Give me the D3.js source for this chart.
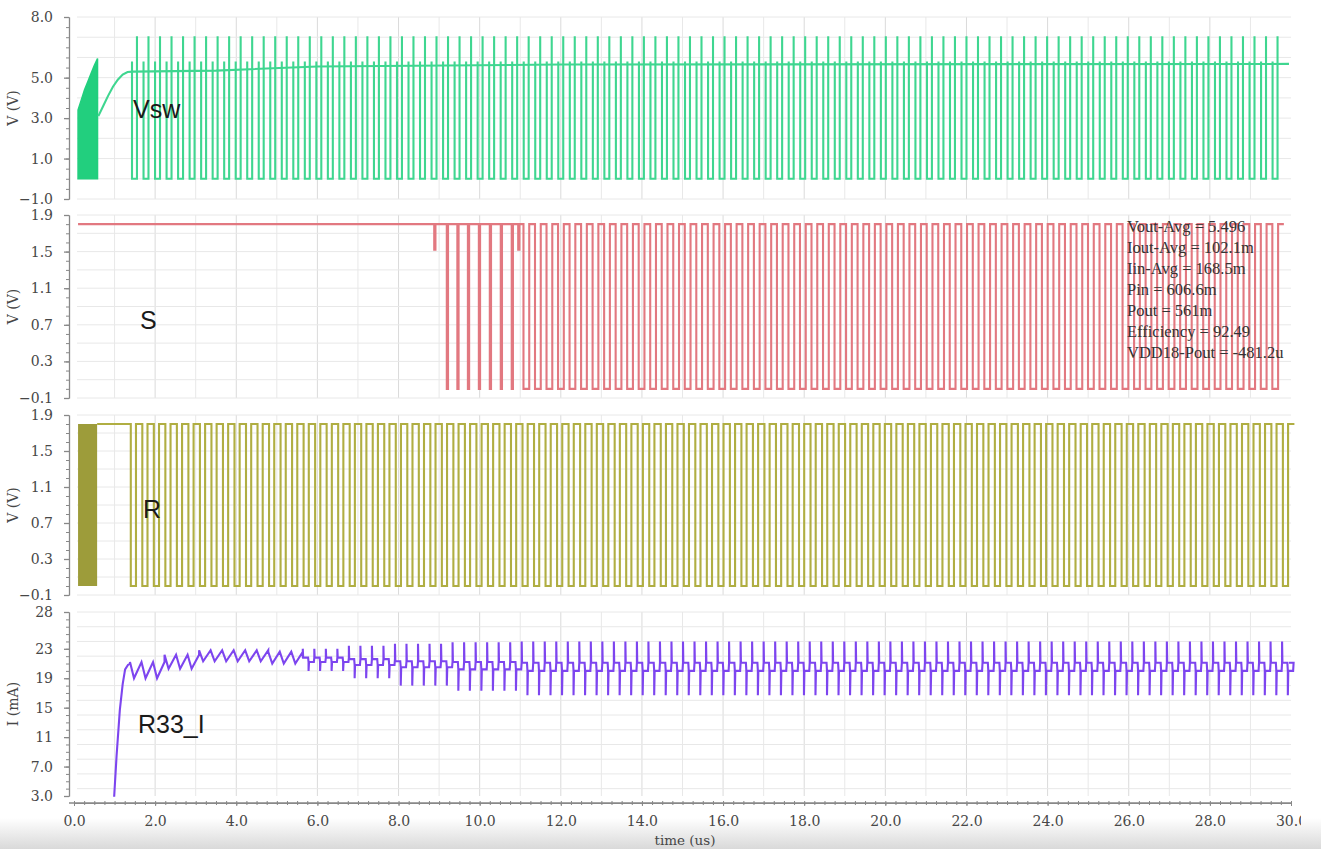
<!DOCTYPE html>
<html>
<head>
<meta charset="utf-8">
<script src="https://cdn.jsdelivr.net/npm/d3@7"></script>
<style>
  body { margin: 0; background: #fff; }
  svg { display: block; }
  .axis text { font-family: "DejaVu Serif", serif; font-size: 14px; fill: #474747; }
  .axis path, .axis line { stroke: #888; }
  .grid line { stroke: #e8e8e8; stroke-width: 1; }
  .grid line.major { stroke: #dadada; }
  .trace { fill: none; stroke-width: 2.1; stroke-linejoin: miter; }
</style>
</head>
<body>
<svg id="svg1" width="1321" height="849"></svg>
<script>
// ---------- values ----------
var timeTicks = [0, 2, 4, 6, 8, 10, 12, 14, 16, 18, 20, 22, 24, 26, 28, 30];
var vswTicks = [8, 5, 3, 1, -1];
var logicTicks = [1.9, 1.5, 1.1, 0.7, 0.3, -0.1];
var currentTicks = [28, 23, 19, 15, 11, 7, 3];

var switchPeriod = 0.284;   // us between switching pulses

// Vsw panel (V)
var vswBurstTop = [[0.1, 3.4], [0.18, 3.9], [0.26, 4.4], [0.34, 4.8], [0.42, 5.2], [0.5, 5.6], [0.58, 5.95]];
var voutCurve = [[0.6, 3.1], [0.72, 3.6], [0.84, 4.1], [0.96, 4.55], [1.08, 4.9], [1.2, 5.15], [1.32, 5.28],
                 [1.45, 5.3], [3.5, 5.35], [6, 5.55], [12, 5.65], [29.95, 5.68]];
var vswPulse = [[0, 5.8], [0, 0], [0.43, 0], [0.43, 7.05]];        // one period: [phase, V]
var vswTrain = [1.43, 29.95];

// S panel (V)
var sHold = [0.1, 1.8];              // starts high
var sDips = [8.88, 10.95];           // shallow dips to ~1.5 V
var sNarrow = [9.19, 9.45, 9.71, 9.98, 10.25, 10.52, 10.79];   // narrow drops to 0 V
var sPulse = [[0, 1.8], [0, 0], [0.5, 0], [0.5, 1.8], [1, 1.8]];
var sTrain = [11.08, 29.95];

// R panel (V)
var rBurst = [0.1, 0.57];            // dense switching 0..1.8 V
var rPulse = [[0, 1.8], [0, 0], [0.45, 0], [0.45, 1.8], [1, 1.8]];
var rTrain = [1.40, 29.95];

// R33_I panel (mA)
var iRise = [[0.99, 2.9], [1.05, 8.5], [1.13, 14.7], [1.2, 18.2], [1.26, 20.2], [1.33, 20.8], [1.38, 21.0]];
// stage start (us), spike top, upper level, lower level, spike bottom
var iStages = [
  [1.38, 21.2, 21.2, 19.0, 19.0],
  [2.2, 22.2, 22.2, 20.3, 20.3],
  [3.0, 22.8, 22.8, 21.3, 21.3],
  [4.6, 22.6, 22.6, 21.0, 21.0],
  [5.4, 23.0, 21.8, 21.2, 20.0],
  [6.5, 23.4, 21.6, 20.8, 19.0],
  [7.8, 23.7, 21.3, 20.5, 18.0],
  [9.2, 23.9, 21.2, 20.2, 17.3],
  [10.8, 24.0, 21.1, 20.0, 16.7]
];
var iTrainEnd = 29.95;

var measureLines = ["Vout-Avg = 5.496", "Iout-Avg = 102.1m", "Iin-Avg = 168.5m", "Pin = 606.6m",
                    "Pout = 561m", "Efficiency = 92.49", "VDD18-Pout = -481.2u"];

// ---------- layout ----------
var params = {
  "x": { "left": 74, "right": 1291 },
  "axisX": 69,
  "gridLeft": 77,
  "panels": [
    { "id": "vsw", "domain": [-1, 8], "top": 17, "bottom": 199, "ticks": vswTicks, "minor": 0.5, "gridStep": 1, "fmt": ".1f", "title": "V (V)" },
    { "id": "s", "domain": [-0.1, 1.9], "top": 215, "bottom": 398, "ticks": logicTicks, "minor": 0.1, "gridStep": 0.2, "fmt": ".1f", "title": "V (V)" },
    { "id": "r", "domain": [-0.1, 1.9], "top": 415, "bottom": 595, "ticks": logicTicks, "minor": 0.1, "gridStep": 0.2, "fmt": ".1f", "title": "V (V)" },
    { "id": "i", "domain": [3, 28], "top": 612, "bottom": 796, "ticks": currentTicks, "minor": 1, "gridStep": 2, "fmt": "", "title": "I (mA)" }
  ],
  "xAxisY": 803
};

var colors = {
  "vsw": "#3fd690", "vswFill": "#22cf7e",
  "s": "#e27880",
  "r": "#b0ae42", "rFill": "#9d9c3a",
  "i": "#7d45ef"
};

var translate = function(x, y) { return "translate(" + x + "," + y + ")"; };

var svg = d3.select("#svg1");
var x = d3.scaleLinear().domain([0, 30]).range([params.x.left, params.x.right]);

// bottom shading
var defs = svg.append("defs");
var grad = defs.append("linearGradient").attr("id", "shade").attr("x1", 0).attr("x2", 0).attr("y1", 0).attr("y2", 1);
grad.append("stop").attr("offset", "0%").attr("stop-color", "#ffffff");
grad.append("stop").attr("offset", "100%").attr("stop-color", "#d9d9d9");
defs.append("clipPath").attr("id", "cut").append("rect")
  .attr("x", 0).attr("y", 0).attr("width", 1301).attr("height", 849);

svg.append("rect").attr("x", 0).attr("y", 0).attr("width", 1321).attr("height", 849).attr("fill", "#fff");
svg.append("rect").attr("x", 0).attr("y", 818).attr("width", 1321).attr("height", 31).attr("fill", "url(#shade)");

// repeat one read period shape between two edges; null breaks the line
var pulseTrain = function(shape, range, breakAfter) {
  var pts = [];
  for (var t0 = range[0]; t0 < range[1] - switchPeriod * 0.5; t0 += switchPeriod) {
    shape.forEach(function(p) { pts.push([t0 + p[0] * switchPeriod, p[1]]); });
    if (breakAfter) pts.push(null);
  }
  return pts;
};

var currentPoints = function() {
  var pts = iRise.slice();
  for (var t0 = iStages[0][0]; t0 < iTrainEnd - switchPeriod * 0.5; t0 += switchPeriod) {
    var st = iStages.filter(function(s) { return s[0] <= t0 + 1e-9; }).pop();
    var hi = st[1], a = st[2], b = st[3], lo = st[4], P = switchPeriod;
    if (hi === a) {
      pts.push([t0, a], [t0 + 0.35 * P, b], [t0 + P, a]);
    } else {
      pts.push([t0, a], [t0, hi], [t0 + 0.03 * P, a], [t0 + 0.46 * P, a], [t0 + 0.5 * P, b],
               [t0 + 0.5 * P, lo], [t0 + 0.54 * P, b], [t0 + 0.96 * P, b], [t0 + P, a]);
    }
  }
  pts.push([iTrainEnd, pts[pts.length - 1][1]]);
  return pts;
};

var panelScales = {};

params.panels.forEach(function(p) {
  var y = d3.scaleLinear().domain(p.domain).range([p.bottom, p.top]);
  panelScales[p.id] = y;

  var g = svg.append("g").attr("id", "panel-" + p.id);

  // grid
  var grid = g.append("g").attr("class", "grid");
  d3.range(1, 30).forEach(function(t) {
    grid.append("line").attr("class", t % 2 === 0 ? "major" : "")
      .attr("x1", x(t)).attr("x2", x(t)).attr("y1", p.top).attr("y2", p.bottom);
  });
  var n = Math.round((p.domain[1] - p.domain[0]) / p.gridStep);
  for (var k = 0; k <= n; k++) {
    var v = p.domain[1] - k * p.gridStep;
    grid.append("line").attr("x1", params.gridLeft).attr("x2", params.x.right)
      .attr("y1", y(v)).attr("y2", y(v));
  }

  // y axis: minor ticks, then labelled ticks
  var minorVals = d3.range(p.domain[0], p.domain[1] + 1e-6, p.minor);
  g.append("g").attr("class", "axis").attr("transform", translate(params.axisX, 0))
    .call(d3.axisLeft(y).tickValues(minorVals).tickSize(3).tickFormat("").tickSizeOuter(0));
  var ax = g.append("g").attr("class", "axis").attr("transform", translate(params.axisX, 0))
    .call(d3.axisLeft(y).tickValues(p.ticks).tickSize(5).tickSizeOuter(0).tickPadding(11)
      .tickFormat(function(d) { return p.fmt ? d3.format(p.fmt)(d) : (d >= 10 ? d : d3.format(".1f")(d)); }));
  ax.selectAll("path, line").attr("stroke-width", 1.3);

  g.append("text")
    .attr("transform", translate(18, (p.top + p.bottom) / 2) + " rotate(-90)")
    .attr("text-anchor", "middle")
    .attr("font-family", "DejaVu Serif, serif").attr("font-size", 14).attr("fill", "#474747")
    .text(p.title);
});

var line = function(y) {
  return d3.line().defined(function(d) { return d !== null; })
    .x(function(d) { return x(d[0]); }).y(function(d) { return y(d[1]); });
};

// ---- Vsw ----
var yV = panelScales.vsw;
svg.append("path")
  .attr("d", d3.area().x(function(d) { return x(d[0]); }).y0(yV(0)).y1(function(d) { return yV(d[1]); })(vswBurstTop))
  .attr("fill", colors.vswFill).attr("stroke", colors.vswFill).attr("stroke-width", 1.5);
svg.append("path").attr("class", "trace").attr("stroke", colors.vsw)
  .attr("d", line(yV)(pulseTrain(vswPulse, vswTrain, true)));
svg.append("path").attr("class", "trace").attr("stroke", colors.vsw)
  .attr("d", line(yV)(voutCurve));

// ---- S ----
var yS = panelScales.s;
var sPts = [[sHold[0], sHold[1]]];
var sEvents = sDips.filter(function(t) { return t < sTrain[0]; }).map(function(t) { return [t, 1.52]; })
  .concat(sNarrow.map(function(t) { return [t, 0]; }))
  .sort(function(a, b) { return a[0] - b[0]; });
sEvents.forEach(function(e) {
  sPts.push([e[0], 1.8], [e[0], e[1]], [e[0] + 0.03, e[1]], [e[0] + 0.03, 1.8]);
});
sPts.push([sTrain[0], 1.8]);
sPts = sPts.concat(pulseTrain(sPulse, sTrain, false));
svg.append("path").attr("class", "trace").attr("stroke", colors.s).attr("stroke-width", 1.9)
  .attr("d", line(yS)(sPts));

// ---- R ----
var yR = panelScales.r;
svg.append("rect")
  .attr("x", x(rBurst[0])).attr("y", yR(1.8))
  .attr("width", x(rBurst[1]) - x(rBurst[0])).attr("height", yR(0) - yR(1.8))
  .attr("fill", colors.rFill);
var rPts = [[rBurst[1], 1.8], [rTrain[0], 1.8]].concat(pulseTrain(rPulse, rTrain, false));
svg.append("path").attr("class", "trace").attr("stroke", colors.r)
  .attr("d", line(yR)(rPts));

// ---- R33_I ----
var yI = panelScales.i;
svg.append("path").attr("class", "trace").attr("stroke", colors.i)
  .attr("d", line(yI)(currentPoints()));

// ---- x axis ----
var gx = svg.append("g").attr("clip-path", "url(#cut)");
gx.append("g").attr("class", "axis").attr("transform", translate(0, params.xAxisY))
  .call(d3.axisBottom(x).tickValues(d3.range(0, 30.01, 0.25)).tickSize(2).tickFormat("").tickSizeOuter(0))
  .selectAll("line").attr("y1", -2);
var xAx = gx.append("g").attr("class", "axis").attr("transform", translate(0, params.xAxisY))
  .call(d3.axisBottom(x).tickValues(timeTicks).tickSize(3).tickSizeOuter(0).tickPadding(10)
    .tickFormat(d3.format(".1f")));
xAx.select(".domain").attr("d", "M" + (params.axisX) + ",0H" + params.x.right).attr("stroke-width", 1.3);

svg.append("text").attr("x", 685).attr("y", 845).attr("text-anchor", "middle")
  .attr("font-family", "DejaVu Serif, serif").attr("font-size", 13.5).attr("fill", "#474747")
  .text("time (us)");

// ---- signal names ----
var names = [["Vsw", 133, 118], ["S", 140, 329], ["R", 143, 518], ["R33_I", 138, 733]];
svg.selectAll("text.name").data(names).enter().append("text")
  .attr("class", "name")
  .attr("x", function(d) { return d[1]; }).attr("y", function(d) { return d[2]; })
  .attr("font-family", "Liberation Sans, Arial, sans-serif").attr("font-size", 25).attr("fill", "#1a1a1a")
  .text(function(d) { return d[0]; });

// ---- measurement readout ----
svg.selectAll("text.meas").data(measureLines).enter().append("text")
  .attr("class", "meas")
  .attr("x", 1127).attr("y", function(d, i) { return 232 + i * 21; })
  .attr("font-family", "Liberation Serif, serif").attr("font-size", 16.5).attr("fill", "#333")
  .text(function(d) { return d; });
</script>
</body>
</html>
